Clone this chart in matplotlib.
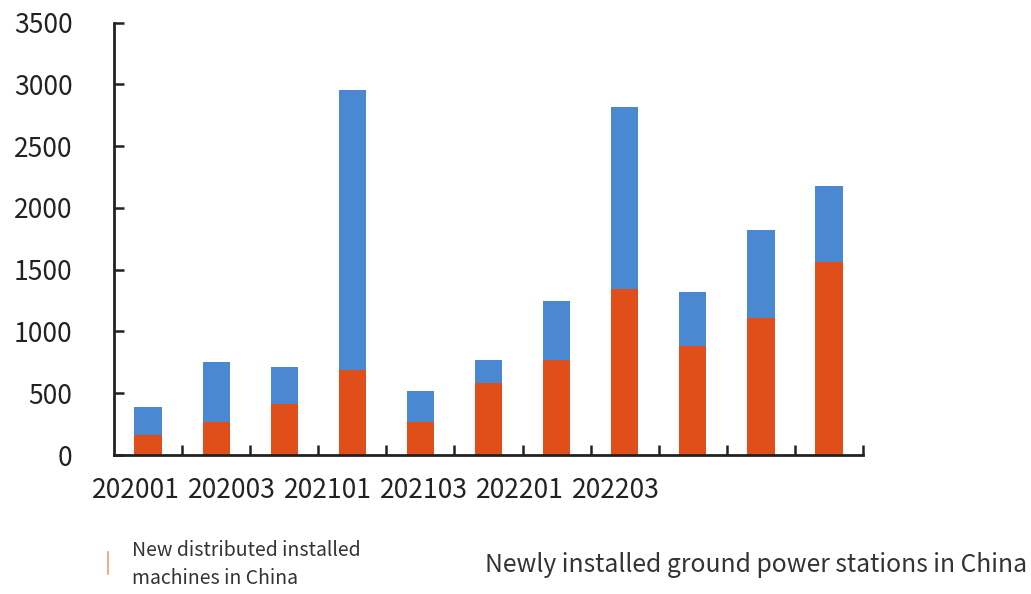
import matplotlib
matplotlib.use("Agg")
import matplotlib.pyplot as plt
from matplotlib.lines import Line2D
import numpy as np

plt.rcParams['font.family'] = ['Noto Sans CJK SC', 'DejaVu Sans']

# Monthly new PV installations (MW), stacked: distributed below, ground stations above
distributed = [162, 265, 413, 689, 270, 586, 770, 1343, 886, 1108, 1566]
ground = [229, 486, 298, 2269, 251, 184, 480, 1474, 437, 715, 608]
period_labels = ["202001", "202003", "202101", "202103", "202201", "202203"]
y_ticks = [0, 500, 1000, 1500, 2000, 2500, 3000, 3500]

orange = "#E04E1A"
blue = "#4A88D2"

fig = plt.figure(figsize=(10.31, 5.94), dpi=100)
ax = fig.add_axes([0.1106, 0.234, 0.7265, 0.7278])

x = np.arange(len(distributed))
ax.bar(x, distributed, width=0.4, color=orange, zorder=2)
ax.bar(x, ground, width=0.4, bottom=distributed, color=blue, zorder=2)

ax.set_xlim(-0.5, len(distributed) - 0.5)
ax.set_ylim(0, 3500)
ax.set_yticks(y_ticks)
ax.set_yticklabels([str(t) for t in y_ticks], fontsize=19, color="#222222")
ax.set_xticks(x + 0.5)
ax.set_xticklabels([])

for side in ("top", "right"):
    ax.spines[side].set_visible(False)
for side in ("left", "bottom"):
    ax.spines[side].set_linewidth(2.0)
    ax.spines[side].set_color("#222222")
ax.tick_params(axis="y", direction="in", length=7, width=1.8, pad=30, color="#222222")
ax.tick_params(axis="x", direction="in", length=7, width=1.8, color="#222222")

# Period labels run along below the axis at a wider spacing than the bars
start, step = 136 / 1031, 96 / 1031
for i, lab in enumerate(period_labels):
    fig.text(start + i * step, 1 - 490 / 594, lab, fontsize=19, color="#222222",
             ha="center", va="center")

# Legend text
fig.add_artist(Line2D([108 / 1031, 108 / 1031], [1 - 552 / 594, 1 - 574 / 594],
                      color="#E8A07A", lw=1.2))
fig.text(132 / 1031, 1 - 551 / 594, "New distributed installed", fontsize=14,
         color="#333333", ha="left", va="center")
fig.text(132 / 1031, 1 - 579 / 594, "machines in China", fontsize=14,
         color="#333333", ha="left", va="center")
fig.text(485 / 1031, 1 - 565 / 594, "Newly installed ground power stations in China",
         fontsize=17.8, color="#333333", ha="left", va="center")

fig.savefig("out.png", dpi=100, facecolor="white")
